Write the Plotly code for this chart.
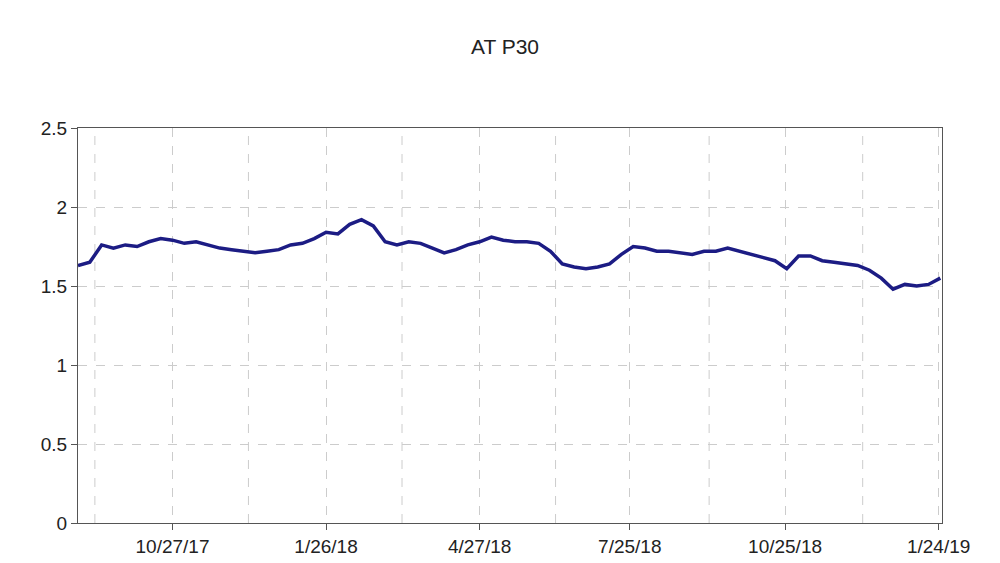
import plotly.graph_objects as go
import pandas as pd

start = "2017-09-01"
values = [1.63,1.65,1.76,1.74,1.76,1.75,1.78,1.80,1.79,1.77,1.78,1.76,1.74,1.73,1.72,1.71,1.72,1.73,1.76,1.77,
          1.80,1.84,1.83,1.89,1.92,1.88,1.78,1.76,1.78,1.77,1.74,1.71,1.73,1.76,1.78,1.81,1.79,1.78,1.78,1.77,
          1.72,1.64,1.62,1.61,1.62,1.64,1.70,1.75,1.74,1.72,1.72,1.71,1.70,1.72,1.72,1.74,1.72,1.70,1.68,1.66,
          1.61,1.69,1.69,1.66,1.65,1.64,1.63,1.60,1.55,1.48,1.51,1.50,1.51,1.55]
dates = pd.date_range(start, periods=len(values), freq="7D")
tick_dates = ["2017-10-27","2018-01-26","2018-04-27","2018-07-25","2018-10-25","2019-01-24"]
tick_labels = ["10/27/17","1/26/18","4/27/18","7/25/18","10/25/18","1/24/19"]
minor_dates = ["2017-09-11","2017-12-11","2018-03-12","2018-06-11","2018-09-10","2018-12-10"]

fig = go.Figure(go.Scatter(x=dates, y=values, mode="lines",
                           line=dict(color="#1c1c84", width=3.5)))
for d in minor_dates:
    fig.add_vline(x=d, line=dict(color="#cccccc", width=1, dash="dash"), layer="below")
fig.update_layout(
    width=1000, height=563, paper_bgcolor="white", plot_bgcolor="white",
    margin=dict(l=70, r=66, t=120, b=48), showlegend=False,
    font=dict(family="Liberation Sans, Arial", size=19, color="#222"),
    title=dict(text="AT P30", x=0.497, y=0.945, xanchor="center", font=dict(size=21)),
    xaxis=dict(range=["2017-09-01","2019-01-26"], tickvals=tick_dates, ticktext=tick_labels,
               showgrid=True, gridcolor="#cccccc", griddash="dash", showline=True,
               linecolor="#555", mirror=True, ticks="outside", ticklen=6, tickcolor="#555"),
    yaxis=dict(range=[0,2.5], tickvals=[0,0.5,1,1.5,2,2.5],
               ticktext=["0","0.5","1","1.5","2","2.5"], showgrid=True, gridcolor="#cccccc",
               griddash="dash", showline=True, linecolor="#555", mirror=True,
               ticks="outside", ticklen=6, tickcolor="#555", zeroline=False),
)
fig.write_html("out.html")
